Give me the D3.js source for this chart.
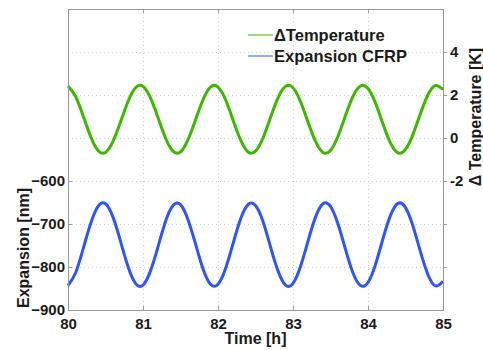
<!DOCTYPE html>
<html><head><meta charset="utf-8">
<script src="https://cdn.jsdelivr.net/npm/d3@7"></script>
<style>body{margin:0;background:#fff}svg{display:block}text{font-family:"Liberation Sans",Arial,sans-serif;font-weight:bold;fill:#1a1a1a}</style>
</head><body>
<script>
const time = [80.0,80.1,80.2,80.3,80.4,80.5,80.6,80.7,80.8,80.9,81.0,81.1,81.2,81.3,81.4,81.5,81.6,81.7,81.8,81.9,82.0,82.1,82.2,82.3,82.4,82.5,82.6,82.7,82.8,82.9,83.0,83.1,83.2,83.3,83.4,83.5,83.6,83.7,83.8,83.9,84.0,84.1,84.2,84.3,84.4,84.5,84.6,84.7,84.8,84.9,85.0];
const deltaTemperature = [2.42,1.94,1.05,0.08,-0.58,-0.67,-0.16,0.74,1.70,2.34,2.40,1.87,0.95,0.00,-0.61,-0.65,-0.08,0.84,1.78,2.37,2.37,1.79,0.84,-0.08,-0.65,-0.61,0.00,0.95,1.87,2.40,2.34,1.70,0.74,-0.16,-0.67,-0.58,0.08,1.05,1.94,2.42,2.30,1.62,0.65,-0.24,-0.69,-0.53,0.17,1.14,2.01,2.44,2.25];
const expansionCFRP = [-843,-814,-759,-700,-659,-653,-684,-740,-799,-838,-842,-809,-753,-694,-657,-655,-690,-746,-804,-840,-840,-804,-746,-689,-655,-657,-694,-753,-809,-842,-838,-799,-740,-684,-653,-659,-700,-759,-814,-843,-836,-794,-734,-680,-652,-662,-705,-765,-818,-844,-833];
const xTicks = [80,81,82,83,84,85];
const leftTicks = [-900,-800,-700,-600];
const rightTicks = [-2,0,2,4];
const gridLeft = [-800,-700,-600,-500,-400,-300];
const legendLabels = ["\u0394Temperature","Expansion CFRP"];
const colors = ["#3cb800","#2f55f2"];

const W=483,H=350, L=68,R=443,T=9,B=310;
const svg=d3.select("body").append("svg").attr("width",W).attr("height",H);
const x=d3.scaleLinear([80,85],[L,R]);
const yL=d3.scaleLinear([-900,-200],[B,T]);
const yR=d3.scaleLinear([-8,6],[B,T]);

// grid
const g=svg.append("g").attr("stroke","#d0d0d0").attr("stroke-dasharray","1,3").attr("stroke-width",1);
xTicks.slice(1,-1).forEach(v=>g.append("line").attr("x1",x(v)+0.5).attr("x2",x(v)+0.5).attr("y1",T).attr("y2",B));
gridLeft.forEach(v=>g.append("line").attr("x1",L).attr("x2",R).attr("y1",Math.round(yL(v))+0.5).attr("y2",Math.round(yL(v))+0.5));

// lines
const lineT=d3.line().x((d,i)=>x(time[i])).y(d=>yR(d)).curve(d3.curveNatural);
const lineE=d3.line().x((d,i)=>x(time[i])).y(d=>yL(d)).curve(d3.curveNatural);
svg.append("path").attr("d",lineT(deltaTemperature)).attr("fill","none").attr("stroke",colors[0]).attr("stroke-width",3);
svg.append("path").attr("d",lineE(expansionCFRP)).attr("fill","none").attr("stroke",colors[1]).attr("stroke-width",3);

// box
svg.append("rect").attr("x",L+0.5).attr("y",T+0.5).attr("width",R-L).attr("height",B-T).attr("fill","none").attr("stroke","#999");

// axes
const ax=svg.append("g").attr("transform",`translate(0,${B})`).call(d3.axisBottom(x).tickValues(xTicks).tickFormat(d3.format("d")).tickSizeInner(-4).tickSizeOuter(0).tickPadding(8));
const axT=svg.append("g").attr("transform",`translate(0,${T})`).call(d3.axisTop(x).tickValues(xTicks).tickFormat("").tickSizeInner(-4).tickSizeOuter(0));
const ayL=svg.append("g").attr("transform",`translate(${L},0)`).call(d3.axisLeft(yL).tickValues(leftTicks).tickFormat(d3.format("d")).tickSizeInner(-4).tickSizeOuter(0).tickPadding(3));
const ayR=svg.append("g").attr("transform",`translate(${R},0)`).call(d3.axisRight(yR).tickValues([-6,-4,-2,0,2,4]).tickFormat(d=>rightTicks.includes(d)?d:"").tickSizeInner(4).tickSizeOuter(0).tickPadding(3));
[ax,axT,ayL,ayR].forEach(a=>{a.select(".domain").remove();a.selectAll("line").attr("stroke","#999");a.selectAll("text").attr("font-size",15).attr("font-family","Liberation Sans, Arial, sans-serif").attr("font-weight","bold").attr("fill","#1a1a1a");});

// axis titles
svg.append("text").attr("x",x(82.5)).attr("y",344).attr("text-anchor","middle").attr("font-size",16).text("Time [h]");
svg.append("text").attr("transform","translate(29,248) rotate(-90)").attr("text-anchor","middle").attr("font-size",16).text("Expansion [nm]");
svg.append("text").attr("transform","translate(481,117) rotate(-90)").attr("text-anchor","middle").attr("font-size",16).text("\u0394 Temperature [K]");

// legend
const lg=svg.append("g");
legendLabels.forEach((t,i)=>{
  const yy=35+i*21;
  lg.append("line").attr("x1",248).attr("x2",273).attr("y1",yy).attr("y2",yy).attr("stroke",colors[i]).attr("stroke-width",1);
  lg.append("text").attr("x",274).attr("y",yy+6).attr("font-size",16.5).text(t);
});
</script>
</body></html>
